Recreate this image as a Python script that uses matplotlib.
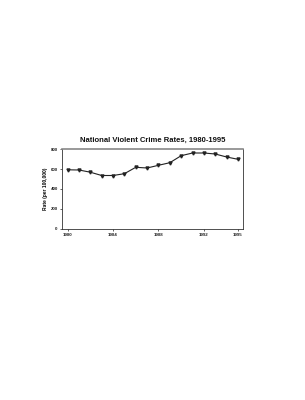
import matplotlib
matplotlib.use("Agg")
import matplotlib.pyplot as plt

years = list(range(1980, 1996))
rates = [592, 590, 568, 535, 535, 553, 617, 610, 637, 663, 733, 760, 760, 750, 720, 697]
xticks = [1980, 1984, 1988, 1992, 1995]
yticks = [0, 200, 400, 600, 800]

plt.rcParams['font.family'] = ['Liberation Sans', 'DejaVu Sans']

fig = plt.figure(figsize=(3.05, 4.0), dpi=100)
ax = fig.add_axes([0.203, 0.4275, 0.594, 0.2])

ax.plot(years, rates, color="#222222", lw=0.8, marker="v", ms=2.2, mfc="#222222", mec="#222222")
ax.set_xlim(1979.5, 1995.45)
ax.set_ylim(0, 800)
ax.set_xticks(xticks)
ax.set_yticks(yticks)
ax.tick_params(labelsize=3.2, length=1.5, width=0.5, pad=1.5, colors="#222222")
for lab in ax.get_xticklabels() + ax.get_yticklabels():
    lab.set_fontweight("bold")
for s in ax.spines.values():
    s.set_linewidth(0.6)
    s.set_color("#333333")
ax.spines["top"].set_linewidth(1.2)
ax.spines["top"].set_color("#888888")

ax.set_ylabel("Rate (per 100,000)", fontsize=3.5, fontweight="bold", labelpad=2)
ax.set_title("National Violent Crime Rates, 1980-1995", fontsize=5.5, fontweight="bold", pad=5, color="#111111")

fig.savefig("out.png", dpi=100, facecolor="white")
